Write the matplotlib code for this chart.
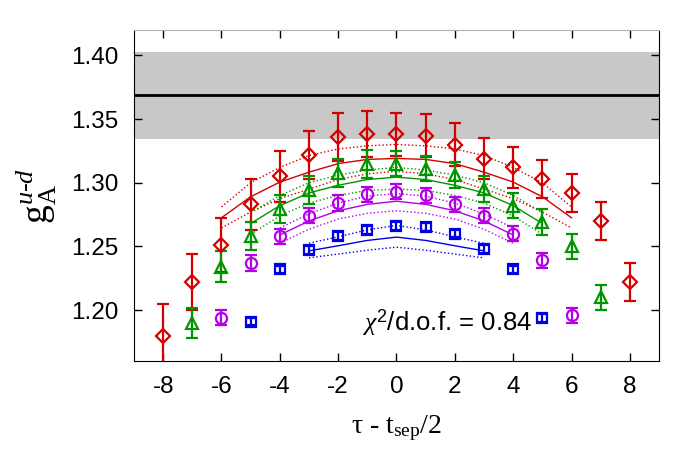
import matplotlib
matplotlib.use('Agg')
import matplotlib.pyplot as plt

plt.rcParams['font.family'] = ['Liberation Sans', 'DejaVu Sans']
plt.rcParams['mathtext.fontset'] = 'custom'
plt.rcParams['mathtext.rm'] = 'Liberation Serif'
plt.rcParams['mathtext.it'] = 'Liberation Serif:italic'
plt.rcParams['mathtext.sf'] = 'Liberation Sans'
plt.rcParams['axes.unicode_minus'] = False

# данные: tau - t_sep/2 и g_A для четырёх t_sep
tau_r = [-8, -7, -6, -5, -4, -3, -2, -1, 0, 1, 2, 3, 4, 5, 6, 7, 8]
g_r = [1.180, 1.222, 1.251, 1.283, 1.305, 1.322, 1.336, 1.338, 1.338,
       1.337, 1.330, 1.319, 1.312, 1.303, 1.292, 1.270, 1.222]
e_r = [0.025, 0.022, 0.021, 0.020, 0.020, 0.019, 0.019, 0.018, 0.017,
       0.017, 0.017, 0.016, 0.016, 0.015, 0.015, 0.015, 0.015]

tau_g = [-7, -6, -5, -4, -3, -2, -1, 0, 1, 2, 3, 4, 5, 6, 7]
g_g = [1.190, 1.234, 1.258, 1.279, 1.294, 1.308, 1.315, 1.315,
       1.311, 1.306, 1.295, 1.282, 1.269, 1.250, 1.210]
e_g = [0.012, 0.012, 0.011, 0.011, 0.011, 0.011, 0.011, 0.010,
       0.010, 0.010, 0.010, 0.010, 0.010, 0.010, 0.010]

tau_p = [-6, -5, -4, -3, -2, -1, 0, 1, 2, 3, 4, 5, 6]
g_p = [1.194, 1.237, 1.258, 1.274, 1.284, 1.291, 1.293,
       1.290, 1.283, 1.274, 1.260, 1.239, 1.196]
e_p = [0.006, 0.006, 0.006, 0.006, 0.006, 0.006, 0.006,
       0.006, 0.006, 0.006, 0.006, 0.006, 0.006]

tau_b = [-5, -4, -3, -2, -1, 0, 1, 2, 3, 4, 5]
g_b = [1.191, 1.232, 1.247, 1.258, 1.263, 1.266, 1.265, 1.260, 1.248, 1.232, 1.194]
e_b = [0.003, 0.003, 0.003, 0.003, 0.003, 0.003, 0.003, 0.003, 0.003, 0.003, 0.003]

# кривые фита (центр, верх, низ)
fit_r_x = [-6, -5, -4, -3, -2, -1, 0, 1, 2, 3, 4, 5, 6]
fit_r = [1.2725, 1.289, 1.3005, 1.3083, 1.315, 1.3183, 1.3191, 1.3183, 1.315, 1.3083, 1.3005, 1.289, 1.2725]
fit_r_hi = [1.281, 1.300, 1.312, 1.3214, 1.3265, 1.329, 1.330, 1.329, 1.3265, 1.3214, 1.312, 1.300, 1.281]
fit_r_lo = [1.2645, 1.277, 1.2875, 1.295, 1.3025, 1.307, 1.309, 1.307, 1.3025, 1.295, 1.2875, 1.277, 1.2645]

fit_g_x = [-5, -4, -3, -2, -1, 0, 1, 2, 3, 4, 5]
fit_g = [1.268, 1.282, 1.292, 1.298, 1.3025, 1.3044, 1.3025, 1.298, 1.292, 1.282, 1.268]
fit_g_hi = [1.2765, 1.290, 1.300, 1.306, 1.310, 1.312, 1.310, 1.306, 1.300, 1.290, 1.2765]
fit_g_lo = [1.2595, 1.274, 1.284, 1.290, 1.294, 1.295, 1.294, 1.290, 1.284, 1.274, 1.2595]

fit_p_x = [-4, -3, -2, -1, 0, 1, 2, 3, 4]
fit_p = [1.259, 1.270, 1.278, 1.283, 1.2855, 1.283, 1.278, 1.270, 1.259]
fit_p_hi = [1.2645, 1.2755, 1.2840, 1.2895, 1.2915, 1.2895, 1.2840, 1.2755, 1.2645]
fit_p_lo = [1.2525, 1.2635, 1.2715, 1.2760, 1.2780, 1.2760, 1.2715, 1.2635, 1.2525]

fit_b_x = [-3, -2, -1, 0, 1, 2, 3]
fit_b = [1.2465, 1.2505, 1.2547, 1.2573, 1.2547, 1.2505, 1.2465]
fit_b_hi = [1.2525, 1.2575, 1.263, 1.2665, 1.263, 1.2575, 1.2525]
fit_b_lo = [1.241, 1.244, 1.247, 1.2494, 1.247, 1.244, 1.241]

band_lo, band_mid, band_hi = 1.3345, 1.369, 1.403

red = '#d40000'
green = '#009600'
purple = '#b400e6'
blue = '#0000e6'

fig = plt.figure(figsize=(6.75, 4.71), dpi=100)
ax = fig.add_axes([0.1985, 0.2335, 0.7778, 0.703])

# серая полоса и чёрная линия
ax.axhspan(band_lo, band_hi, color='#c8c8c8', lw=0, zorder=0)
ax.axhline(band_mid, color='k', lw=2, zorder=1)

# линии фита
for xs, c, hi, lo, col in [(fit_r_x, fit_r, fit_r_hi, fit_r_lo, red),
                           (fit_g_x, fit_g, fit_g_hi, fit_g_lo, green),
                           (fit_p_x, fit_p, fit_p_hi, fit_p_lo, purple),
                           (fit_b_x, fit_b, fit_b_hi, fit_b_lo, blue)]:
    ax.plot(xs, c, '-', color=col, lw=1, zorder=2)
    ax.plot(xs, hi, ':', color=col, lw=1, zorder=2)
    ax.plot(xs, lo, ':', color=col, lw=1, zorder=2)

# точки с погрешностями
for xs, ys, es, col, m, ms in [(tau_r, g_r, e_r, red, 'D', 7),
                               (tau_g, g_g, e_g, green, '^', 8.5),
                               (tau_p, g_p, e_p, purple, 'o', 8),
                               (tau_b, g_b, e_b, blue, 's', 7)]:
    ax.errorbar(xs, ys, yerr=es, fmt=m, color=col, mfc='none', mec=col,
                ms=ms, mew=1.6, elinewidth=1.6, capsize=4, capthick=1.6,
                linestyle='None', zorder=3)

ax.text(1.75, 1.190, r'$\chi^{\mathsf{2}}$/d.o.f. = 0.84', fontsize=18.5,
        ha='center', va='center')

ax.set_xlim(-9, 9)
ax.set_ylim(1.16, 1.42)
ax.set_xticks([-8, -6, -4, -2, 0, 2, 4, 6, 8])
ax.set_yticks([1.20, 1.25, 1.30, 1.35, 1.40])
ax.set_yticklabels(['1.20', '1.25', '1.30', '1.35', '1.40'])
ax.tick_params(direction='in', length=6, width=1, top=True, right=True,
               labelsize=17.5, pad=11)
ax.spines['top'].set_color('#b0b0b0')

ax.set_xlabel(r'τ - t$_{\mathregular{sep}}$/2', fontsize=20,
              family=['Liberation Serif', 'DejaVu Serif'], labelpad=11)
ax.set_ylabel(r'$\mathregular{g}_{\mathregular{A}}^{u\text{-}d}$', fontsize=27,
              family=['Liberation Serif', 'DejaVu Serif'], labelpad=9)

fig.savefig('out.png', dpi=100)
